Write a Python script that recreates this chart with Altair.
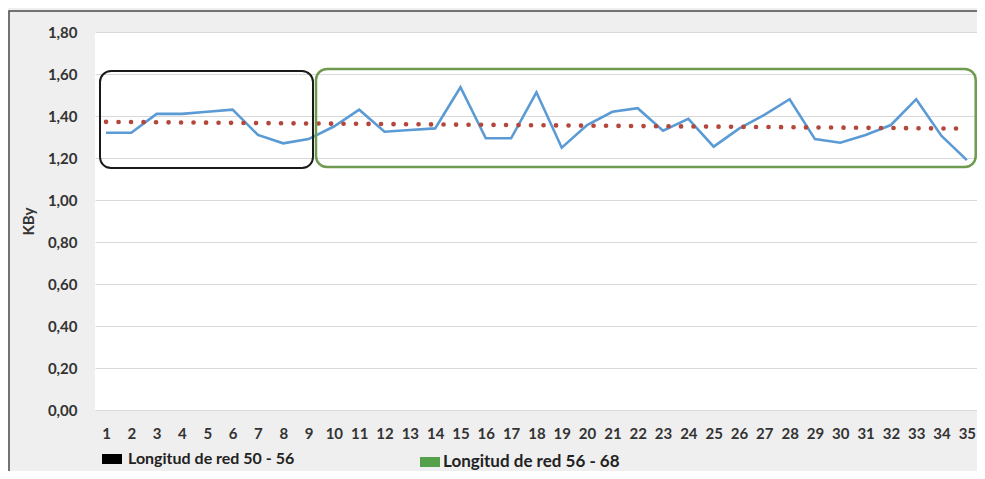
import altair as alt
import pandas as pd

# ---- data ----
muestras = list(range(1, 36))
kby = [1.32, 1.32, 1.41, 1.41, 1.42, 1.43, 1.31, 1.27, 1.29, 1.35,
       1.43, 1.325, 1.333, 1.341, 1.537, 1.294, 1.294, 1.513, 1.249, 1.357,
       1.42, 1.437, 1.33, 1.386, 1.254, 1.34, 1.405, 1.48, 1.29, 1.273,
       1.31, 1.357, 1.48, 1.305, 1.19]

grupos = ["Longitud de red 50 - 56", "Longitud de red 56 - 68"]
caja_x0 = [0.763, 9.294]
caja_x1 = [9.175, 35.35]
caja_y0 = [1.152, 1.157]
caja_y1 = [1.614, 1.624]

y_ticks = [0.0, 0.2, 0.4, 0.6, 0.8, 1.0, 1.2, 1.4, 1.6, 1.8]

df = pd.DataFrame({"muestra": muestras, "kby": kby})
cajas = pd.DataFrame({"grupo": grupos, "x0": caja_x0, "x1": caja_x1,
                      "y0": caja_y0, "y1": caja_y1})

FONT = "Lato"
W, H = 882, 378

xscale = alt.Scale(domain=[0.5656, 35.40], nice=False, zero=False)
yscale = alt.Scale(domain=[0, 1.8], nice=False)

xaxis = alt.Axis(values=muestras, format="d", title=None, grid=False,
                 domain=False, ticks=False, labelPadding=16,
                 labelOverlap=False, labelBound=False, labelSeparation=0,
                 labelFont=FONT, labelFontSize=15, labelFontWeight="bold",
                 labelColor="#333333", labelFlush=False)
yaxis = alt.Axis(values=y_ticks, title="KBy", domain=False, ticks=False,
                 grid=True, gridColor="#d9d9d9", gridWidth=1,
                 labelOverlap=False,
                 labelExpr="replace(format(datum.value, '.2f'), '.', ',')",
                 labelPadding=18, labelFont=FONT, labelFontSize=15,
                 labelFontWeight="bold", labelColor="#333333",
                 titleFont=FONT, titleFontSize=15, titleFontWeight="bold",
                 titleColor="#333333", titleX=-67, titleY=H / 2,
                 titleAngle=-90, titleBaseline="middle", titleAlign="center")


def X(field):
    return alt.X(field, scale=xscale, axis=xaxis)


def Y(field):
    return alt.Y(field, scale=yscale, axis=yaxis)


base = alt.Chart(df)

linea = base.mark_line(color="#5b9bd5", strokeWidth=2.6).encode(
    x=X("muestra:Q"), y=Y("kby:Q"))

tendencia = base.transform_regression(
    "muestra", "kby", method="linear", extent=[1, 35]
).mark_line(color="#b3473b", strokeWidth=4.6, strokeDash=[0.1, 12.4],
            strokeCap="round").encode(x=X("muestra:Q"), y=Y("kby:Q"))

caja1 = alt.Chart(cajas.iloc[[0]]).mark_rect(
    filled=False, stroke="#1a1a1a", strokeWidth=2, cornerRadius=11
).encode(x=X("x0:Q"), x2="x1:Q", y=Y("y0:Q"), y2="y1:Q")

caja2 = alt.Chart(cajas.iloc[[1]]).mark_rect(
    filled=False, stroke="#6e9b50", strokeWidth=2.5, cornerRadius=11
).encode(x=X("x0:Q"), x2="x1:Q", y=Y("y0:Q"), y2="y1:Q")

sym = "M-1,-0.5H1V0.5H-1Z"

leyenda1 = alt.Chart(cajas.iloc[[0]]).mark_rect().encode(
    x=X("x0:Q"), x2="x0:Q", y=Y("y0:Q"), y2="y0:Q",
    color=alt.Color("grupo:N",
                    scale=alt.Scale(domain=[grupos[0]], range=["#000000"]),
                    legend=alt.Legend(title=None, orient="none", legendX=7, legendY=417,
                                      symbolType=sym, symbolSize=400, symbolStrokeWidth=0,
                                      labelFont=FONT, labelFontSize=16,
                                      labelFontWeight="bold", labelColor="#222222",
                                      labelOffset=6, padding=0, labelLimit=400)),
)

leyenda2 = alt.Chart(cajas.iloc[[1]]).mark_rect().encode(
    x=X("x0:Q"), x2="x0:Q", y=Y("y0:Q"), y2="y0:Q",
    fill=alt.Fill("grupo:N",
                  scale=alt.Scale(domain=[grupos[1]], range=["#55a04a"]),
                  legend=alt.Legend(title=None, orient="none", legendX=325, legendY=420,
                                    symbolType=sym, symbolSize=400, symbolStrokeWidth=0,
                                    labelFont=FONT, labelFontSize=17,
                                    labelFontWeight="bold", labelColor="#222222",
                                    labelOffset=3, padding=0, labelLimit=400)),
)

marco = alt.Chart(pd.DataFrame({"k": [0]})).mark_rect(
    filled=False, stroke="#4a4a4a", strokeWidth=1.5
).encode(x=alt.value(-86), x2=alt.value(W + 60), y=alt.value(-21), y2=alt.value(H + 150))

chart = alt.layer(
    marco, linea, tendencia, caja1, caja2, leyenda1, leyenda2
).resolve_scale(color="independent", fill="independent").properties(
    width=W, height=H,
    autosize=alt.AutoSizeParams(type="none"),
    padding={"left": 87, "top": 24, "right": 0, "bottom": 61},
    background="#efefef",
).configure_view(fill="white", stroke=None).configure_axisX(
    labelOverlap=False, labelBound=False
)

chart.save("out.html", embed_options={"renderer": "svg", "actions": False})
